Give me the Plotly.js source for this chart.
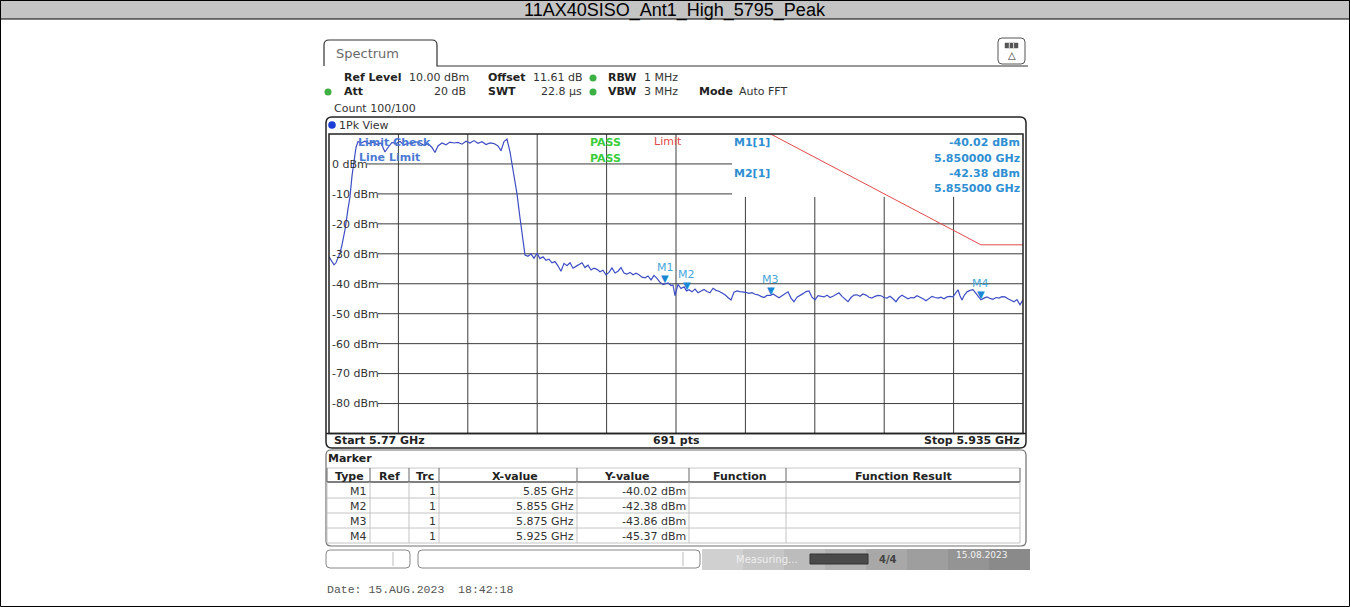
<!DOCTYPE html>
<html>
<head>
<meta charset="utf-8">
<script src="https://cdn.plot.ly/plotly-3.0.1.min.js"></script>
<style>
html,body{margin:0;padding:0;background:#fff;}
#chart{width:1350px;height:607px;}
</style>
</head>
<body>
<div id="chart"></div>
<script>
// ---------------- DATA ----------------
const chartTitle = "11AX40SISO_Ant1_High_5795_Peak";
const startGHz = 5.77;
const stopGHz = 5.935;
const sweepPoints = 691;

// trace (frequency in MHz, level in dBm)
const traceFreqMHz = [
5770.00,5770.71,5771.19,5771.66,5772.14,5772.62,5773.09,5773.80,5774.52,5774.99,
5775.47,5775.94,5776.42,5776.89,5777.61,5778.56,5779.51,5780.46,5781.41,5782.36,
5783.31,5784.03,5784.98,5785.93,5786.88,5787.83,5788.78,5789.73,5790.68,5791.64,
5792.59,5793.54,5794.49,5795.20,5795.91,5796.87,5797.82,5798.77,5799.72,5800.67,
5801.62,5802.57,5803.52,5804.47,5805.42,5806.38,5807.33,5808.28,5809.23,5810.18,
5810.89,5811.61,5812.32,5813.03,5813.51,5814.22,5814.70,5815.41,5816.12,5816.60,
5817.31,5818.03,5818.74,5819.45,5820.17,5820.88,5821.59,5822.31,5823.02,5823.73,
5824.44,5825.16,5825.87,5826.58,5827.30,5828.01,5828.72,5829.44,5830.15,5830.86,
5831.58,5832.29,5833.00,5833.72,5834.43,5835.14,5835.86,5836.57,5837.28,5838.00,
5838.71,5839.42,5840.14,5840.85,5841.56,5842.28,5842.99,5843.70,5844.42,5845.13,
5845.84,5846.56,5847.27,5847.98,5848.70,5849.41,5850.00,5850.60,5851.31,5851.79,
5852.26,5852.97,5853.69,5854.40,5855.00,5855.59,5856.30,5857.02,5857.73,5858.44,
5859.16,5859.87,5860.58,5861.30,5862.01,5862.72,5863.44,5864.15,5864.86,5865.58,
5866.29,5867.00,5867.72,5868.43,5869.14,5869.86,5870.57,5871.28,5872.00,5872.71,
5873.42,5874.13,5875.00,5875.56,5876.27,5876.99,5877.70,5878.41,5879.13,5879.84,
5880.55,5881.27,5881.98,5882.69,5883.41,5884.12,5884.83,5885.55,5886.26,5886.97,
5887.69,5888.40,5889.11,5889.83,5890.54,5891.25,5891.97,5892.68,5893.39,5894.11,
5894.82,5895.53,5896.25,5896.96,5897.67,5898.39,5899.10,5899.81,5900.53,5901.24,
5901.95,5902.67,5903.38,5904.09,5904.80,5905.52,5906.23,5906.94,5907.66,5908.37,
5909.08,5909.80,5910.51,5911.22,5911.94,5912.65,5913.36,5914.08,5914.79,5915.50,
5916.22,5916.93,5917.64,5918.36,5919.07,5919.55,5920.02,5920.50,5920.97,5921.68,
5922.40,5923.11,5923.82,5924.30,5925.00,5925.73,5926.44,5927.16,5927.87,5928.58,
5929.29,5930.01,5930.72,5931.43,5932.15,5932.86,5933.57,5934.29,5935.00
];
const traceDbm = [
-31.0,-32.5,-33.7,-33.0,-31.5,-29.7,-27.0,-22.0,-15.0,-11.0,
-4.0,1.0,5.5,7.5,7.0,7.6,6.8,7.3,6.5,7.0,
4.0,5.5,7.2,6.8,7.5,6.3,7.0,6.9,7.4,7.0,
6.2,6.8,5.5,3.8,6.0,7.0,6.4,7.3,7.0,7.2,
6.6,7.6,7.0,7.8,6.9,7.4,6.5,7.0,6.8,6.0,
4.4,7.5,8.3,4.0,0.0,-6.0,-10.0,-18.0,-26.0,-30.4,
-30.8,-30.0,-31.5,-29.8,-31.6,-31.0,-32.2,-31.8,-33.0,-32.6,
-34.0,-35.8,-33.2,-34.0,-33.0,-34.8,-34.2,-33.5,-33.0,-34.6,
-33.8,-35.4,-34.8,-35.2,-36.0,-35.5,-37.0,-36.2,-34.7,-36.4,
-35.8,-34.6,-36.4,-36.8,-36.2,-37.0,-36.5,-37.0,-37.8,-38.0,
-37.4,-38.7,-37.2,-38.2,-39.5,-40.3,-40.02,-39.7,-40.6,-40.4,
-44.0,-40.2,-41.6,-41.0,-42.38,-42.0,-42.7,-41.8,-43.0,-42.4,
-41.9,-42.6,-43.0,-41.5,-42.2,-42.5,-43.0,-43.7,-44.6,-45.4,
-42.8,-42.4,-42.6,-42.7,-42.9,-43.2,-43.0,-43.5,-43.7,-44.2,
-44.6,-43.9,-43.86,-43.4,-44.2,-44.7,-44.0,-43.2,-42.7,-44.8,
-46.0,-44.5,-44.0,-43.3,-42.6,-42.4,-44.5,-45.4,-44.0,-44.2,
-44.4,-43.8,-44.6,-44.2,-43.5,-43.0,-44.2,-45.2,-46.0,-44.6,
-43.8,-43.7,-44.2,-43.4,-43.8,-44.5,-44.8,-44.2,-43.9,-44.0,
-44.6,-44.8,-44.2,-45.0,-46.0,-44.6,-43.8,-44.4,-45.0,-44.6,
-44.7,-44.0,-44.4,-45.0,-45.7,-44.8,-44.2,-44.6,-44.8,-44.5,
-45.0,-44.4,-44.2,-44.4,-43.0,-42.0,-44.0,-45.4,-44.0,-42.7,
-42.2,-42.0,-43.2,-44.2,-45.37,-44.8,-44.4,-44.9,-45.2,-44.6,
-44.8,-44.3,-44.4,-45.0,-45.6,-46.0,-45.3,-47.0,-45.4
];

// limit line
const limitFreqMHz = [5850, 5855, 5875, 5925, 5935];
const limitDbm = [27, 15.6, 10, -27, -27];

// markers
const markerNames = ["M1", "M2", "M3", "M4"];
const markerFreqGHz = [5.85, 5.855, 5.875, 5.925];
const markerDbm = [-40.02, -42.38, -43.86, -45.37];

// y tick labels
const yTickVals = [0, -10, -20, -30, -40, -50, -60, -70, -80];
const yTickText = ["0 dBm", "-10 dBm", "-20 dBm", "-30 dBm", "-40 dBm", "-50 dBm", "-60 dBm", "-70 dBm", "-80 dBm"];

// ---------------- LAYOUT HELPERS ----------------
const W = 1350, H = 607;
const X = p => p / W;
const Y = p => 1 - p / H;
const FONT = "DejaVu Sans";
const shapes = [];
const annotations = [];

function T(x, y, text, o) {
  o = o || {};
  annotations.push({
    xref: "paper", yref: "paper", x: X(x), y: Y(y), text: text, showarrow: false,
    xanchor: o.xa || "left", yanchor: o.ya || "middle", borderpad: 0,
    font: {family: o.fam || FONT, size: o.size || 11, color: o.color || "#222"}
  });
}
function L(x0, y0, x1, y1, color, width, layer) {
  shapes.push({type: "line", xref: "paper", yref: "paper", x0: X(x0), y0: Y(y0), x1: X(x1), y1: Y(y1),
    line: {color: color, width: width || 1}, layer: layer || "above"});
}
function R(x0, y0, x1, y1, fill, color, width, layer) {
  shapes.push({type: "rect", xref: "paper", yref: "paper", x0: X(x0), y0: Y(y0), x1: X(x1), y1: Y(y1),
    fillcolor: fill || "rgba(0,0,0,0)", line: {color: color || "rgba(0,0,0,0)", width: width || 0}, layer: layer || "above"});
}
function RR(x0, y0, x1, y1, r, color, width, fill, layer) {
  const p = "M" + X(x0 + r) + "," + Y(y0) + " L" + X(x1 - r) + "," + Y(y0) +
    " Q" + X(x1) + "," + Y(y0) + " " + X(x1) + "," + Y(y0 + r) +
    " L" + X(x1) + "," + Y(y1 - r) + " Q" + X(x1) + "," + Y(y1) + " " + X(x1 - r) + "," + Y(y1) +
    " L" + X(x0 + r) + "," + Y(y1) + " Q" + X(x0) + "," + Y(y1) + " " + X(x0) + "," + Y(y1 - r) +
    " L" + X(x0) + "," + Y(y0 + r) + " Q" + X(x0) + "," + Y(y0) + " " + X(x0 + r) + "," + Y(y0) + " Z";
  shapes.push({type: "path", xref: "paper", yref: "paper", path: p,
    line: {color: color, width: width}, fillcolor: fill || "rgba(0,0,0,0)", layer: layer || "above"});
}
function DOT(cx, cy, r, fill) {
  shapes.push({type: "circle", xref: "paper", yref: "paper", x0: X(cx - r), x1: X(cx + r), y0: Y(cy + r), y1: Y(cy - r),
    fillcolor: fill, line: {width: 0}});
}

// ---------------- PAGE FRAME / TITLE ----------------
R(0, 0, 1350, 19, "#c4c4c4", "#000", 1, "below");
R(0.5, 0.5, 1349.5, 606.5, "rgba(0,0,0,0)", "#000", 1, "above");
T(675, 10, chartTitle, {xa: "center", fam: "Liberation Sans", size: 18, color: "#000"});

// ---------------- INSTRUMENT HEADER ----------------
shapes.push({type: "path", xref: "paper", yref: "paper",
  path: "M" + X(324) + "," + Y(66) + " L" + X(324) + "," + Y(45) + " Q" + X(324) + "," + Y(40) + " " + X(329) + "," + Y(40) +
        " L" + X(432) + "," + Y(40) + " Q" + X(437) + "," + Y(40) + " " + X(437) + "," + Y(45) + " L" + X(437) + "," + Y(66) +
        " L" + X(1028) + "," + Y(66),
  line: {color: "#333", width: 1.2}});
T(335, 53, "Spectrum", {size: 13, color: "#6a6a6a"});
RR(998, 38, 1025, 64, 4, "#555", 1, "#fff");
R(1005, 43, 1018, 48, "#555", "#555", 0.5);
L(1009.3, 43, 1009.3, 48, "#ddd", 1);
L(1013.6, 43, 1013.6, 48, "#ddd", 1);
T(1011.5, 56, "△", {xa: "center", size: 10, color: "#333"});

T(343, 77, "<b>Ref Level</b>");
T(408, 77, "10.00 dBm", {color: "#333"});
T(487, 77, "<b>Offset</b>");
T(532, 77, "11.61 dB", {color: "#333"});
DOT(593, 78, 3.5, "#3cb043");
T(607, 77, "<b>RBW</b>");
T(643, 77, "1 MHz", {color: "#333"});

DOT(328, 92, 3.5, "#3cb043");
T(343, 92, "<b>Att</b>");
T(467, 92, "20 dB", {xa: "right", color: "#333"});
T(487, 92, "<b>SWT</b>");
T(583, 92, "22.8 µs", {xa: "right", color: "#333"});
DOT(593, 92, 3.5, "#3cb043");
T(607, 92, "<b>VBW</b>");
T(643, 92, "3 MHz", {color: "#333"});
T(698, 92, "<b>Mode</b>");
T(738, 92, "Auto FFT", {color: "#333"});
T(333, 108, "Count 100/100", {color: "#333"});

// ---------------- 1Pk VIEW PANEL ----------------
RR(326, 117, 1026, 448, 6, "#222", 1.5, "rgba(0,0,0,0)");
DOT(332, 125, 3.8, "#1b3fd6");
T(338, 125, "1Pk View", {color: "#333"});
R(329, 134, 1023, 433.5, "rgba(0,0,0,0)", "#222", 1.5, "above");
L(326, 433.5, 1026, 433.5, "#222", 1.5);
T(333, 440, "<b>Start " + startGHz + " GHz</b>");
T(676, 440, "<b>" + sweepPoints + " pts</b>", {xa: "center"});
T(1021, 440, "<b>Stop " + stopGHz + " GHz</b>", {xa: "right"});

// gridlines (axis geometry, not data)
const GRID = "#3c3c3c";
const divMHz = (stopGHz - startGHz) * 1000 / 10;
for (let i = 1; i <= 9; i++) {
  const f = startGHz * 1000 + divMHz * i;
  shapes.push({type: "line", xref: "x", yref: "y", x0: f, x1: f, y0: -90, y1: i <= 5 ? 10 : -11,
    line: {color: GRID, width: 1}, layer: "below"});
}
yTickVals.forEach(v => {
  const x0 = v === 0 ? 367 : 378;
  const x1 = v >= -10 ? 732 : 1023;
  shapes.push({type: "line", xref: "paper", yref: "y", x0: X(x0), x1: X(x1), y0: v, y1: v,
    line: {color: GRID, width: 1}, layer: "below"});
});

// overlay texts inside plot
T(357, 142.5, "<b>Limit Check</b>", {color: "#4a7ad4"});
T(358, 157, "<b>Line Limit</b>", {color: "#4a7ad4"});
T(605, 143, "<b>PASS</b>", {xa: "center", color: "#3ccc3c"});
T(605, 158, "<b>PASS</b>", {xa: "center", color: "#3ccc3c"});
T(653, 141, "Limit", {color: "#e04848"});

// marker readout box (M1, M2)
const MCOL = "#2f8fd2";
for (let k = 0; k < 2; k++) {
  const y0 = k === 0 ? 143 : 173.5;
  T(733, y0, "<b>" + markerNames[k] + "[1]</b>", {color: MCOL});
  T(1021, y0, "<b>" + markerDbm[k].toFixed(2) + " dBm</b>", {xa: "right", color: MCOL});
  T(1021, y0 + 15, "<b>" + markerFreqGHz[k].toFixed(6) + " GHz</b>", {xa: "right", color: MCOL});
}

// markers on trace
markerNames.forEach((n, k) => {
  annotations.push({xref: "x", yref: "y", x: markerFreqGHz[k] * 1000, y: markerDbm[k], text: "▼",
    showarrow: false, yshift: 5, font: {family: FONT, size: 10, color: "#1a86d6"}});
  annotations.push({xref: "x", yref: "y", x: markerFreqGHz[k] * 1000, y: markerDbm[k], text: n,
    showarrow: false, yshift: 16, font: {family: FONT, size: 11, color: "#46a6dc"}});
});

// ---------------- MARKER TABLE ----------------
RR(326, 450, 1026, 546, 5, "#707070", 1.2, "rgba(0,0,0,0)");
T(327, 459, "<b>Marker</b>");
const colX = [327, 370, 409, 439, 577, 689, 786, 1020];
L(327, 468, 1020, 468, "#c8c8c8", 1);
L(327, 482, 1020, 482, "#555", 1.5);
colX.forEach(x => L(x, 468, x, 482, "#666", 1));
colX.forEach(x => L(x, 482, x, 543, "#c4c4c4", 1));
[498, 513, 528, 543].forEach(y => L(327, y, 1020, y, "#c4c4c4", 1));
T(349.5, 476, "<b>Type</b>", {xa: "center"});
T(390, 476, "<b>Ref</b>", {xa: "center"});
T(425, 476, "<b>Trc</b>", {xa: "center"});
T(515, 476, "<b>X-value</b>", {xa: "center"});
T(627, 476, "<b>Y-value</b>", {xa: "center"});
T(740, 476, "<b>Function</b>", {xa: "center"});
T(903, 476, "<b>Function Result</b>", {xa: "center"});
markerNames.forEach((n, k) => {
  const y = 491 + 15 * k;
  T(368, y, n, {xa: "right", color: "#333"});
  T(437, y, "1", {xa: "right", color: "#333"});
  T(575, y, markerFreqGHz[k] + " GHz", {xa: "right", color: "#333"});
  T(687, y, markerDbm[k].toFixed(2) + " dBm", {xa: "right", color: "#333"});
});

// ---------------- STATUS BAR ----------------
RR(326, 550, 410, 568, 4, "#888", 1, "#fff");
L(393, 552, 393, 566, "#bbb", 1);
RR(418, 550, 700, 568, 4, "#888", 1, "#fff");
L(683, 552, 683, 566, "#bbb", 1);
const bandCols = ["#d0d0d0", "#c6c6c6", "#bcbcbc", "#b2b2b2", "#a8a8a8", "#9e9e9e", "#949494", "#8a8a8a"];
bandCols.forEach((c, i) => R(702 + i * 41, 549, 702 + (i + 1) * 41, 570, c, "rgba(0,0,0,0)", 0));
T(735, 559, "Measuring...", {size: 10, color: "#eeeeee"});
R(810, 554, 868, 564, "#4a4a4a", "#333", 1);
T(878, 559, "<b>4/4</b>", {size: 10, color: "#444"});
T(955, 555, "15.08.2023", {size: 9, color: "#f2f2f2"});

T(326, 589, "Date: 15.AUG.2023  18:42:18", {fam: "Liberation Mono", size: 11.5, color: "#555"});

// ---------------- TRACES ----------------
const data = [
  {type: "scatter", mode: "lines", x: limitFreqMHz, y: limitDbm,
   line: {color: "#e04a4a", width: 1}, hoverinfo: "skip", showlegend: false},
  {type: "scatter", mode: "lines", x: traceFreqMHz, y: traceDbm,
   line: {color: "#3e4ec4", width: 1.2}, hoverinfo: "skip", showlegend: false}
];

const layout = {
  width: W, height: H,
  margin: {l: 0, r: 0, t: 0, b: 0},
  paper_bgcolor: "#fff", plot_bgcolor: "#fff",
  showlegend: false,
  xaxis: {domain: [X(329), X(1023)], range: [startGHz * 1000, stopGHz * 1000],
          showgrid: false, zeroline: false, showticklabels: false, ticks: "", showline: false, fixedrange: true},
  yaxis: {domain: [Y(433.5), Y(134)], range: [-90, 10], showgrid: false, zeroline: false,
          tickvals: yTickVals, ticktext: yTickText, ticks: "", ticklabelposition: "inside",
          tickfont: {family: FONT, size: 11, color: "#333"}, showline: false, fixedrange: true},
  shapes: shapes,
  annotations: annotations
};

Plotly.newPlot("chart", data, layout, {staticPlot: true, displayModeBar: false});
</script>
</body>
</html>
